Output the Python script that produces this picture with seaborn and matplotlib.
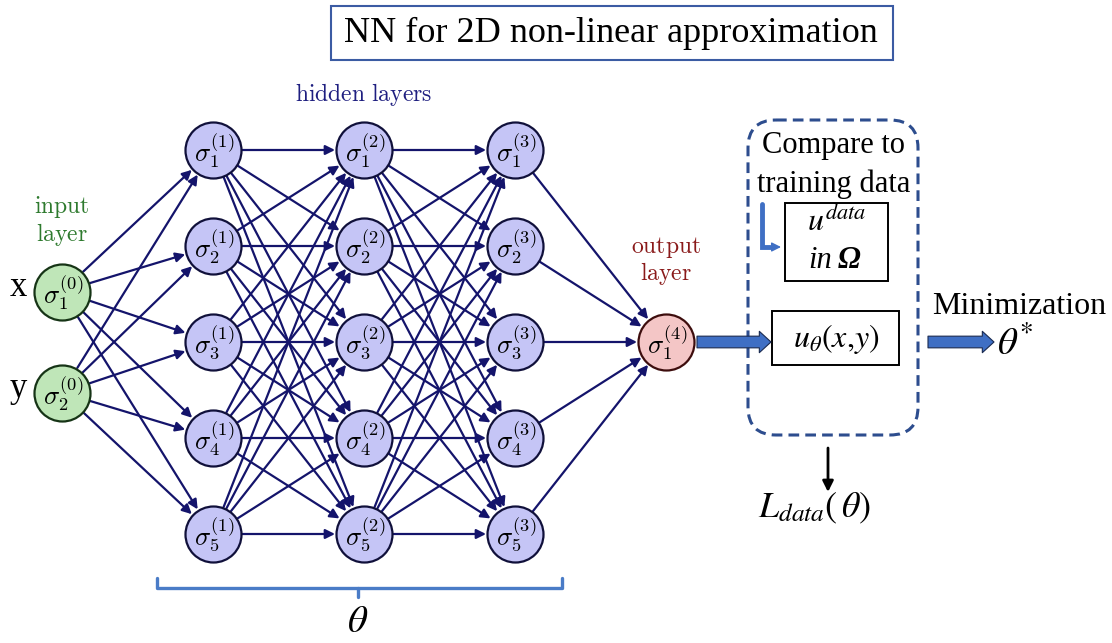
import numpy as np
import pandas as pd
import seaborn as sns
import matplotlib.pyplot as plt
from matplotlib.patches import FancyBboxPatch, FancyArrowPatch, Rectangle

# network structure
layer_sizes = [2, 5, 5, 5, 1]
input_names = ["x", "y"]
title_text = "NN for 2D non-linear approximation"
compare_text = ["Compare to", "training data"]
min_text = "Minimization"

sns.set_theme(style="white")
plt.rcParams["font.family"] = ["Liberation Serif", "DejaVu Serif"]
plt.rcParams["mathtext.fontset"] = "cm"
plt.rcParams["text.color"] = "black"

NAVY = "#14146b"
LAV = "#c5c5f6"
BLUE = "#3f6fc4"
DBOX = "#2d4d8e"

fig = plt.figure(figsize=(11.12, 6.43), dpi=100)
ax = fig.add_axes([0, 0, 1, 1])

# layout (pixel units)
layer_x = [62, 213, 364, 515, 666]
yc = 342
R = 28


def layer_rows(n):
    gap = 101 if n == 2 else 96
    return [yc + (i - (n - 1) / 2) * gap for i in range(n)]


rows = []
for li, n in enumerate(layer_sizes):
    for i, y in enumerate(layer_rows(n)):
        rows.append(dict(layer=li, idx=i + 1, x=layer_x[li], y=y))
nodes = pd.DataFrame(rows)

# connections
for li in range(len(layer_sizes) - 1):
    a = nodes[nodes.layer == li]
    b = nodes[nodes.layer == li + 1]
    for _, p in a.iterrows():
        for _, q in b.iterrows():
            d = np.array([q.x - p.x, q.y - p.y])
            u = d / np.hypot(*d)
            s = np.array([p.x, p.y]) + u * (R + 1)
            e = np.array([q.x, q.y]) - u * (R + 1)
            ax.annotate("", xy=e, xytext=s,
                        arrowprops=dict(arrowstyle="-|>", color=NAVY, lw=1.6,
                                        mutation_scale=14, shrinkA=0, shrinkB=0))

size = (2 * R * 0.72) ** 2
styles = {0: ("#bfe6b8", "#163416"), 4: ("#f4c6c6", "#3d0d0d")}
for li in range(len(layer_sizes)):
    fc, ec = styles.get(li, (LAV, "#10103a"))
    sns.scatterplot(data=nodes[nodes.layer == li], x="x", y="y", s=size,
                    color=fc, edgecolor=ec, linewidth=1.6, zorder=3, ax=ax,
                    legend=False)
for _, r in nodes.iterrows():
    ax.text(r.x + 1, r.y + 1, r"$\sigma_{%d}^{(%d)}$" % (r.idx, r.layer),
            fontsize=19, ha="center", va="center", zorder=4)

ax.set_xlim(0, 1112)
ax.set_ylim(643, 0)
ax.axis("off")

# input names
for name, y in zip(input_names, layer_rows(2)):
    ax.text(18, y - 4, name, fontsize=25, ha="center", va="center")

# layer captions
ax.text(62, 221, r"$\mathrm{input}$" + "\n" + r"$\mathrm{layer}$", color="#2e7a2e",
        fontsize=17, ha="center", va="center", linespacing=1.0)
ax.text(364, 95, r"$\mathrm{hidden\ layers}$", color="#1f1f80", fontsize=17,
        ha="center", va="center")
ax.text(666, 261, r"$\mathrm{output}$" + "\n" + r"$\mathrm{layer}$", color="#8a1a1a",
        fontsize=17, ha="center", va="center", linespacing=1.0)

# title
ax.add_patch(Rectangle((331, 6), 562, 54, fill=False, ec="#3b5ba3", lw=1.5))
ax.text(611, 33, title_text, fontsize=26, ha="center", va="center")

# dashed comparison box
ax.add_patch(FancyBboxPatch((748, 120), 170, 315,
                            boxstyle="round,pad=0,rounding_size=28",
                            fill=False, ec=DBOX, lw=2.2, ls=(0, (3.5, 2))))
ax.text(833, 146, compare_text[0], fontsize=22, ha="center", va="center")
ax.text(834, 184, compare_text[1], fontsize=22, ha="center", va="center")

ax.add_patch(Rectangle((785, 203), 103, 78, fill=False, ec="black", lw=1.4))
ax.text(837, 222, r"$u^{data}$", fontsize=23, ha="center", va="center",
        math_fontfamily="stix")
ax.text(820, 261, "in", fontsize=22, style="italic", ha="center", va="center")
ax.text(849, 261, "Ω", fontsize=22, style="italic", weight="bold",
        ha="center", va="center")

ax.plot([762, 762, 770], [204, 247, 247], color=BLUE, lw=3.5,
        solid_joinstyle="miter")
ax.annotate("", xy=(781, 247), xytext=(768, 247),
            arrowprops=dict(arrowstyle="-|>", color=BLUE, lw=1,
                            mutation_scale=14, shrinkA=0, shrinkB=0))

ax.add_patch(Rectangle((772, 311), 127, 54, fill=False, ec="black", lw=1.4))
ax.text(836, 339, r"$u_{\theta}(x{,}y)$", fontsize=23, ha="center",
        va="center", math_fontfamily="stix")

# thick arrows
for x0, x1 in [(697, 771), (928, 994)]:
    ax.add_patch(FancyArrowPatch((x0, 342), (x1, 342),
                                 arrowstyle="simple,head_length=0.6,head_width=1.1,tail_width=0.6",
                                 mutation_scale=14, fc=BLUE, ec="#1a2a50", lw=0.8,
                                 shrinkA=0, shrinkB=0))

ax.text(1019, 306, min_text, fontsize=23, ha="center", va="center")
ax.text(1015, 345, r"$\theta^{*}$", fontsize=28, ha="center", va="center",
        math_fontfamily="stix")

# loss
ax.annotate("", xy=(828, 492), xytext=(828, 448),
            arrowprops=dict(arrowstyle="-|>", color="black", lw=2,
                            mutation_scale=16, shrinkA=0, shrinkB=0))
ax.text(815, 508, r"$L_{data}(\,\theta)$", fontsize=26, ha="center",
        va="center", math_fontfamily="stix")

# brace over hidden weights
ax.plot([157, 157, 562, 562], [578, 588, 588, 578], color="#4a7cc7", lw=2.4)
ax.plot([358, 358], [588, 597], color="#4a7cc7", lw=2.4)
ax.text(358, 623, r"$\theta$", fontsize=28, ha="center", va="center",
        math_fontfamily="stix")

fig.savefig("out.png", dpi=100)
